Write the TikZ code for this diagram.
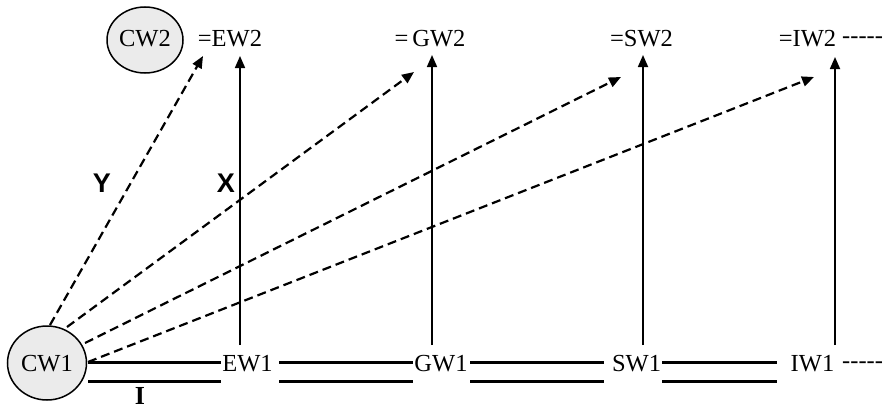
\documentclass[tikz,border=0pt]{standalone}
\usepackage{fontspec}
\setmainfont{Liberation Serif}
\newfontfamily\labsans{Liberation Sans}
\usetikzlibrary{arrows.meta,shapes.geometric}
\begin{document}
\begin{tikzpicture}[x=1pt,y=-1pt,
  lab/.style={inner sep=0pt, font=\fontsize{24.5}{24.5}\selectfont},
  circ/.style={draw, line width=1.5pt, fill=black!8},
  solidarrow/.style={line width=1.7pt, -{Triangle[length=12pt,width=10pt]}},
  dasharrow/.style={line width=2.2pt, dash pattern=on 9pt off 5pt, -{Triangle[length=12pt,width=10pt]}},
  rail/.style={line width=3pt},
  tag/.style={inner sep=0pt, font=\labsans\bfseries\fontsize{27}{27}\selectfont}
]
\useasboundingbox (0,0) rectangle (885,412);
% circles
\draw[circ] (47,363) ellipse [x radius=39.5, y radius=37];
\node[lab] (CW1) at (47,363.5) {CW1};
\draw[circ] (145,40) ellipse [x radius=38, y radius=33];
\node[lab] (CW2) at (145,38.5) {CW2};
% top labels
\node[lab] (EW2) at (230,38.5) {=EW2};
\node[lab] (GW2) at (430,38.5) {=\,GW2};
\node[lab] (SW2) at (641.5,38.5) {=SW2};
\node[lab] (IW2) at (807.5,38.5) {=IW2};
\node[lab, anchor=west] (dots2) at (842,40) {-{}-{}-{}-{}-};
% bottom labels
\node[lab] (EW1) at (247.5,363.5) {EW1};
\node[lab] (GW1) at (441,363.5) {GW1};
\node[lab] (SW1) at (636.5,363.5) {SW1};
\node[lab] (IW1) at (812.5,363.5) {IW1};
\node[lab, anchor=west] (dots1) at (842,365) {-{}-{}-{}-{}-};
% tags
\node[tag] (Y) at (102,183.5) {Y};
\node[tag] (X) at (226,183.5) {X};
\node[inner sep=0pt, font=\bfseries\fontsize{26}{26}\selectfont] (I) at (140,396) {I};
% coordinates
\coordinate (eB) at (240,345); \coordinate (eT) at (240,56);
\coordinate (gB) at (432,345); \coordinate (gT) at (432,55);
\coordinate (sB) at (643,345); \coordinate (sT) at (643,55);
\coordinate (iB) at (835,345); \coordinate (iT) at (835,57);
\coordinate (d1s) at (50,325);  \coordinate (d1e) at (203,56);
\coordinate (d2s) at (67,327);  \coordinate (d2e) at (414,72);
\coordinate (d3s) at (85,343);  \coordinate (d3e) at (621,77);
\coordinate (d4s) at (88,362);  \coordinate (d4e) at (814,77);
% solid arrows
\draw[solidarrow] (eB) -- (eT);
\draw[solidarrow] (gB) -- (gT);
\draw[solidarrow] (sB) -- (sT);
\draw[solidarrow] (iB) -- (iT);
% dashed arrows
\draw[dasharrow] (d1s) -- (d1e);
\draw[dasharrow] (d2s) -- (d2e);
\draw[dasharrow] (d3s) -- (d3e);
\draw[dasharrow] (d4s) -- (d4e);
% rails
\foreach \a/\b in {88/221, 279/413, 470/604, 662/777}{
  \draw[rail] (\a,362.7) -- (\b,362.7);
  \draw[rail] (\a,381) -- (\b,381);
}
\end{tikzpicture}
\end{document}
